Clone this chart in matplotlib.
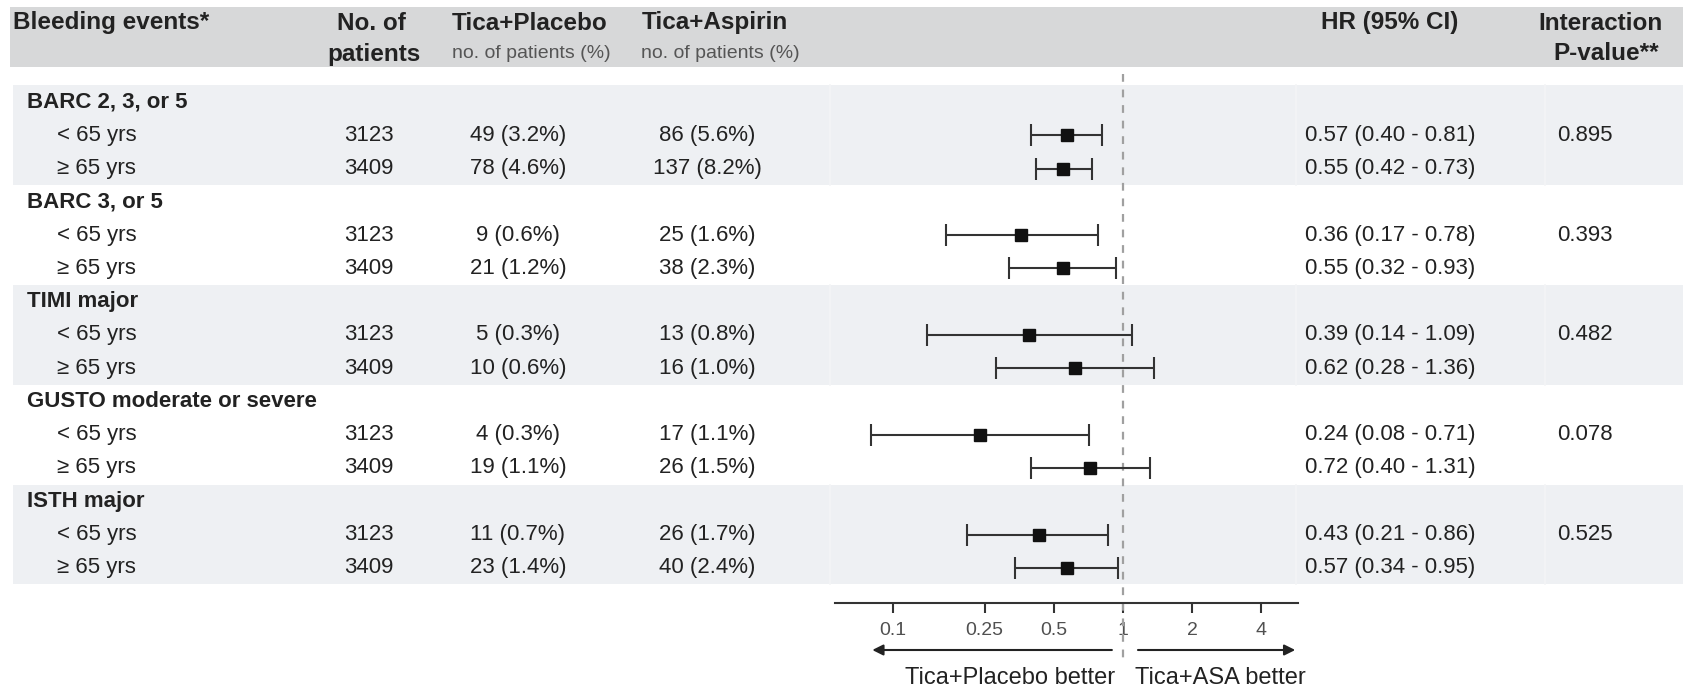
import matplotlib
matplotlib.use('Agg')
import matplotlib.pyplot as plt
from matplotlib.patches import Rectangle
import numpy as np

plt.rcParams['font.family'] = ['Liberation Sans', 'DejaVu Sans']

# ---------------- data ----------------
groups = ['BARC 2, 3, or 5', 'BARC 3, or 5', 'TIMI major',
          'GUSTO moderate or severe', 'ISTH major']
subgroups = ['< 65 yrs', '\u2265 65 yrs']
n_patients = [3123, 3409]
placebo_events = [49, 78, 9, 21, 5, 10, 4, 19, 11, 23]
placebo_pct = [3.2, 4.6, 0.6, 1.2, 0.3, 0.6, 0.3, 1.1, 0.7, 1.4]
aspirin_events = [86, 137, 25, 38, 13, 16, 17, 26, 26, 40]
aspirin_pct = [5.6, 8.2, 1.6, 2.3, 0.8, 1.0, 1.1, 1.5, 1.7, 2.4]
hr = [0.57, 0.55, 0.36, 0.55, 0.39, 0.62, 0.24, 0.72, 0.43, 0.57]
hr_lo = [0.40, 0.42, 0.17, 0.32, 0.14, 0.28, 0.08, 0.40, 0.21, 0.34]
hr_hi = [0.81, 0.73, 0.78, 0.93, 1.09, 1.36, 0.71, 1.31, 0.86, 0.95]
p_interaction = ['0.895', '0.393', '0.482', '0.078', '0.525']
x_ticks = [0.1, 0.25, 0.5, 1, 2, 4]
x_ticklabels = ['0.1', '0.25', '0.5', '1', '2', '4']

# ---------------- layout (pixels) ----------------
W, H = 1697, 693
row0, row_h = 102, 33.27
TXT = '#222222'
BAND = '#eef0f3'
HEAD = '#d7d8d9'
FS = 16        # body text
FS_HEAD = 17.5 # column headers
FS_GRP = 16    # group labels

fig = plt.figure(figsize=(W / 100, H / 100), dpi=100)
tab = fig.add_axes([0, 0, 1, 1])
tab.set_xlim(0, W)
tab.set_ylim(H, 0)
tab.axis('off')

def row_y(i):
    return row0 + row_h * i

# header band
tab.add_patch(Rectangle((10, 7), 1673, 60, facecolor=HEAD, edgecolor='none'))

# alternating group bands with faint column dividers
for g in range(0, len(groups), 2):
    top = row_y(3 * g) - row_h / 2
    tab.add_patch(Rectangle((13, top), 1670, 3 * row_h,
                            facecolor=BAND, edgecolor='none'))
    for xd in [830, 1296, 1545]:
        tab.plot([xd, xd], [top, top + 3 * row_h], color='#f3f4f6', lw=1.2)

# header text
def head(x, y, s, ha='center'):
    tab.text(x, y, s, fontsize=FS_HEAD, fontweight='bold', color=TXT,
             va='center', ha=ha)

head(13, 23, 'Bleeding events*', ha='left')
head(371, 23, 'No. of')
head(374, 54, 'patients')
head(452, 23, 'Tica+Placebo', ha='left')
head(642, 23, 'Tica+Aspirin', ha='left')
head(1390, 23, 'HR (95% CI)')
head(1601, 23, 'Interaction')
head(1606, 54, 'P-value**')
tab.text(452, 54, 'no. of patients (%)', fontsize=14, color='#555555',
         va='center', ha='left')
tab.text(641, 54, 'no. of patients (%)', fontsize=14, color='#555555',
         va='center', ha='left')

# body text
k = 0
for g, name in enumerate(groups):
    yg = row_y(3 * g)
    tab.text(27, yg, name, fontsize=FS_GRP, fontweight='bold', color=TXT,
             va='center', ha='left')
    for s, sub in enumerate(subgroups):
        y = row_y(3 * g + 1 + s)
        tab.text(57, y, sub, fontsize=FS, color=TXT, va='center', ha='left')
        tab.text(369, y, str(n_patients[s]), fontsize=FS, color=TXT,
                 va='center', ha='center')
        tab.text(518, y, f'{placebo_events[k]} ({placebo_pct[k]:.1f}%)',
                 fontsize=FS, color=TXT, va='center', ha='center')
        tab.text(707, y, f'{aspirin_events[k]} ({aspirin_pct[k]:.1f}%)',
                 fontsize=FS, color=TXT, va='center', ha='center')
        tab.text(1305, y, f'{hr[k]:.2f} ({hr_lo[k]:.2f} - {hr_hi[k]:.2f})',
                 fontsize=FS, color=TXT, va='center', ha='left')
        if s == 0:
            tab.text(1557, y, p_interaction[g], fontsize=FS, color=TXT,
                     va='center', ha='left')
        k += 1

# ---------------- forest plot ----------------
ax_l, ax_r, ax_b, ax_t = 835, 1298, 603, 72
ax = fig.add_axes([ax_l / W, 1 - ax_b / H, (ax_r - ax_l) / W, (ax_b - ax_t) / H])
ax.patch.set_alpha(0)
ax.set_xscale('log')
ax.set_xlim(0.0559, 5.77)
ax.set_ylim(ax_b, ax_t)

ys = [row_y(3 * g + 1 + s) for g in range(len(groups)) for s in range(2)]
hr_a = np.array(hr)
err = [hr_a - np.array(hr_lo), np.array(hr_hi) - hr_a]
ax.errorbar(hr_a, ys, xerr=err, fmt='s', ms=8.5, color='#111111',
            ecolor='#333333', elinewidth=1.5, capsize=8, capthick=1.5,
            zorder=3)

ax.plot([1, 1], [74, 660], color='#a0a0a0', lw=1.6, ls=(0, (3.5, 3.5)),
        clip_on=False, zorder=2)

for sp in ['top', 'left', 'right']:
    ax.spines[sp].set_visible(False)
ax.spines['bottom'].set_linewidth(1.5)
ax.spines['bottom'].set_color('#333333')
ax.set_yticks([])
ax.set_xticks(x_ticks)
ax.set_xticklabels(x_ticklabels)
ax.minorticks_off()
ax.tick_params(axis='x', length=7, width=1.5, color='#333333',
               labelcolor='#505050', labelsize=14, pad=7)

# direction arrows
ax.annotate('', xy=(0.079, 650), xytext=(0.92, 650),
            arrowprops=dict(arrowstyle='-|>', mutation_scale=16, lw=1.5,
                            color='#222222'), annotation_clip=False)
ax.annotate('', xy=(5.77, 650), xytext=(1.13, 650),
            arrowprops=dict(arrowstyle='-|>', mutation_scale=16, lw=1.5,
                            color='#222222'), annotation_clip=False)
ax.text(0.92, 678, 'Tica+Placebo better', fontsize=17, color=TXT,
        ha='right', va='center', clip_on=False)
ax.text(1.13, 678, 'Tica+ASA better', fontsize=17, color=TXT,
        ha='left', va='center', clip_on=False)

fig.savefig('out.png', dpi=100)
